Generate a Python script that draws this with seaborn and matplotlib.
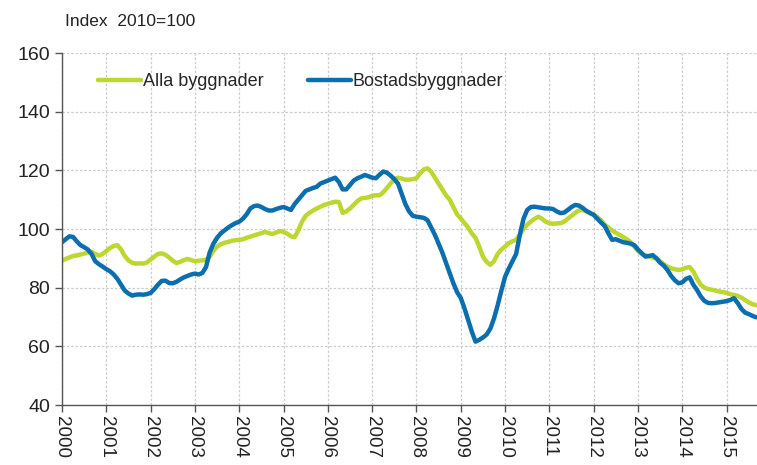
import numpy as np
import pandas as pd
import seaborn as sns
import matplotlib
matplotlib.use('Agg')
import matplotlib.pyplot as plt

# monthly index values, Jan 2000 .. Sep 2015 (2010=100)
alla_byggnader = [
    89.2, 89.8, 90.3, 90.8, 91.0, 91.3, 91.6, 92.0, 92.2, 91.5, 90.9, 91.5,   # 2000
    92.5, 93.5, 94.2, 94.5, 93.0, 90.8, 89.3, 88.5, 88.2, 88.3, 88.2, 88.6,   # 2001
    89.6, 90.6, 91.5, 91.7, 91.2, 90.3, 89.2, 88.4, 88.8, 89.4, 89.8, 89.4,   # 2002
    89.0, 89.2, 89.3, 89.5, 90.5, 92.5, 94.0, 94.8, 95.3, 95.6, 96.0, 96.2,   # 2003
    96.3, 96.5, 97.0, 97.4, 97.8, 98.2, 98.6, 99.0, 98.6, 98.3, 98.8, 99.3,   # 2004
    99.0, 98.4, 97.5, 97.2, 99.5, 102.5, 104.5, 105.5, 106.3, 107.0, 107.6, 108.2,  # 2005
    108.6, 109.0, 109.3, 109.2, 105.5, 106.0, 107.0, 108.2, 109.5, 110.4, 110.6, 110.8,  # 2006
    111.3, 111.5, 111.5, 112.5, 114.0, 115.5, 117.0, 117.5, 117.2, 116.8, 116.8, 117.0,  # 2007
    117.3, 119.0, 120.3, 120.7, 119.5, 117.5, 115.5, 113.5, 111.5, 110.0, 107.5, 105.0,  # 2008
    103.6, 102.0, 100.5, 98.5, 97.0, 94.0, 90.6, 88.8, 87.8, 89.0, 91.5, 93.0,  # 2009
    94.0, 95.2, 95.8, 96.3, 98.0, 100.0, 101.5, 102.5, 103.5, 104.2, 103.5, 102.5,  # 2010
    102.0, 101.8, 101.9, 102.0, 102.5, 103.5, 104.5, 105.5, 106.3, 106.5, 106.0, 105.3,  # 2011
    105.0, 104.0, 103.0, 101.5, 100.5, 99.5, 98.7, 98.0, 97.3, 96.5, 95.5, 94.0,  # 2012
    92.5, 91.5, 91.0, 90.7, 90.3, 90.0, 89.0, 88.0, 87.2, 86.6, 86.3, 86.0,   # 2013
    86.3, 86.8, 87.0, 85.5, 83.0, 81.0, 80.0, 79.5, 79.3, 79.0, 78.7, 78.5,   # 2014
    78.2, 77.8, 77.5, 77.2, 76.6, 75.8, 75.0, 74.4, 74.0,                     # 2015
]

bostadsbyggnader = [
    95.5, 96.5, 97.5, 97.3, 95.8, 94.5, 93.8, 93.0, 91.5, 89.0, 88.0, 87.2,   # 2000
    86.3, 85.6, 84.5, 83.0, 81.0, 79.0, 78.0, 77.3, 77.6, 77.7, 77.6, 77.8,   # 2001
    78.2, 79.5, 81.0, 82.3, 82.4, 81.6, 81.5, 82.0, 82.8, 83.5, 84.0, 84.5,   # 2002
    84.8, 84.5, 85.0, 87.0, 92.0, 95.0, 97.0, 98.5, 99.5, 100.5, 101.3, 102.0,  # 2003
    102.5, 103.5, 105.0, 107.0, 107.8, 108.0, 107.5, 106.8, 106.3, 106.3, 106.8, 107.2,  # 2004
    107.5, 107.0, 106.5, 108.5, 110.0, 111.5, 113.0, 113.5, 114.0, 114.4, 115.5, 116.0,  # 2005
    116.5, 117.0, 117.5, 116.0, 113.5, 113.5, 115.0, 116.5, 117.3, 117.8, 118.4, 118.0,  # 2006
    117.5, 117.3, 118.5, 119.6, 119.2, 118.2, 117.0, 115.5, 112.0, 108.5, 106.0, 104.5,  # 2007
    104.2, 104.0, 103.8, 103.0, 100.5, 98.0, 95.0, 92.0, 88.5, 85.0, 81.5, 78.5,  # 2008
    76.5, 73.0, 69.0, 65.0, 61.6, 62.2, 63.0, 64.0, 66.0, 69.5, 74.0, 79.0,   # 2009
    83.7, 86.5, 89.0, 91.5, 98.0, 103.5, 106.5, 107.5, 107.6, 107.4, 107.2, 107.0,  # 2010
    107.0, 106.8, 106.0, 105.4, 105.6, 106.5, 107.5, 108.2, 108.0, 107.2, 106.2, 105.5,  # 2011
    104.8, 103.5, 102.2, 101.0, 98.5, 96.3, 96.5, 96.0, 95.5, 95.3, 95.0, 94.5,  # 2012
    93.0, 91.8, 90.6, 90.8, 91.1, 90.0, 88.5, 87.5, 86.0, 84.0, 82.5, 81.5,   # 2013
    81.8, 83.0, 83.5, 81.0, 79.2, 77.0, 75.5, 74.8, 74.7, 74.8, 75.0, 75.2,   # 2014
    75.4, 75.8, 76.4, 74.8, 72.8, 71.5, 71.0, 70.4, 69.9,                     # 2015
]

series_names = ['Alla byggnader', 'Bostadsbyggnader']
series_colors = ['#bdd630', '#0b6eae']
year_ticks = list(range(2000, 2016))
y_ticks = [40, 60, 80, 100, 120, 140, 160]


def main():
    months = np.arange(len(alla_byggnader))
    t = 2000 + months / 12
    df = pd.concat([
        pd.DataFrame({'t': t, 'index': alla_byggnader, 'serie': series_names[0]}),
        pd.DataFrame({'t': t, 'index': bostadsbyggnader, 'serie': series_names[1]}),
    ])

    sns.set_style('ticks')
    plt.rcParams['font.family'] = ['Liberation Sans', 'DejaVu Sans']

    fig, ax = plt.subplots(figsize=(7.57, 4.65), dpi=100)
    fig.subplots_adjust(left=62 / 757, right=1.0, top=1 - 53 / 465, bottom=1 - 405 / 465)

    sns.lineplot(data=df, x='t', y='index', hue='serie',
                 palette=dict(zip(series_names, series_colors)),
                 linewidth=3.2, ax=ax)

    ax.set_xlim(2000, t[-1] + 0.02)
    ax.set_ylim(40, 160)
    ax.set_xticks(year_ticks)
    ax.set_xticklabels([str(y) for y in year_ticks], rotation=-90, fontsize=13.5,
                       color='#222222')
    ax.set_yticks(y_ticks)
    ax.set_yticklabels([str(v) for v in y_ticks], fontsize=14, color='#222222')
    ax.set_xlabel('')
    ax.set_ylabel('')
    ax.grid(True, color='#cccccc', linestyle=(0, (2, 1.5)), linewidth=0.9)
    ax.set_axisbelow(True)
    sns.despine(ax=ax, top=True, right=True)
    for s in ('left', 'bottom'):
        ax.spines[s].set_color('#555555')
        ax.spines[s].set_linewidth(1.0)
    ax.tick_params(axis='both', direction='out', length=5, width=1, color='#555555')
    ax.tick_params(axis='x', pad=3)

    ax.text(65 / 757, 1 - 21 / 465, 'Index  2010=100', transform=fig.transFigure,
            fontsize=12.5, color='#222222', va='center', ha='left')

    leg = ax.legend(ncol=2, frameon=False, loc='center left',
                    bbox_to_anchor=(0.028, 0.918), fontsize=13,
                    handlelength=2.4, handletextpad=0.1, columnspacing=2.45)
    for line in leg.get_lines():
        line.set_linewidth(3.2)

    fig.savefig('out.png', dpi=100)


if __name__ == '__main__':
    main()
